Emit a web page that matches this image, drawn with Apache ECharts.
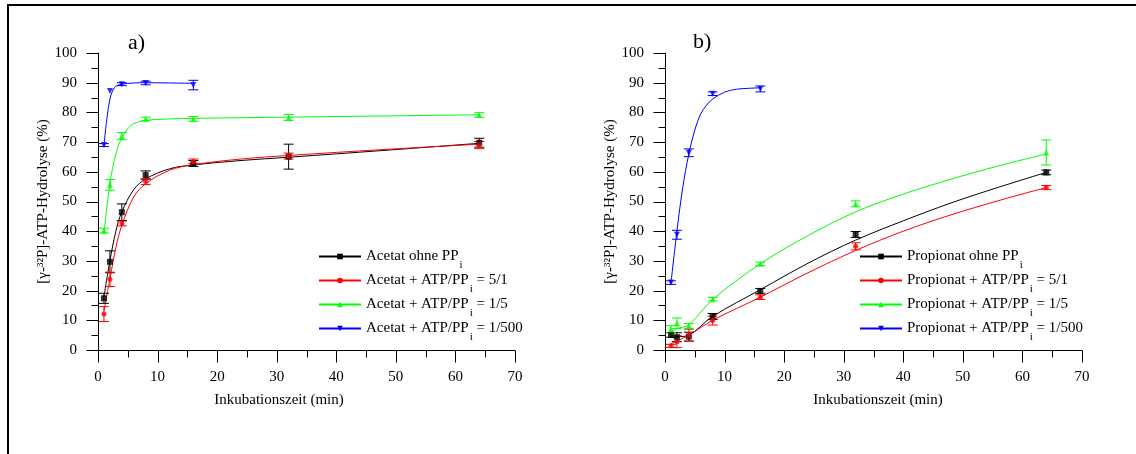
<!DOCTYPE html>
<html>
<head>
<meta charset="utf-8">
<script src="https://cdn.jsdelivr.net/npm/echarts@6/dist/echarts.min.js"></script>
<style>
  html, body { margin: 0; padding: 0; background: #fff; }
  #chart { width: 1136px; height: 454px; }
</style>
</head>
<body>
<div id="chart"></div>
<script>
// sampling times (min)
const times = [1, 2, 4, 8, 16, 32, 64]
const timesShort = [1, 2, 4, 8, 16]

// a) Acetat: measured points and error (+/-)
const acOhne = [17.4, 29.7, 46.4, 58.9, 62.8, 65.1, 69.8]
const acOhneErr = [1.7, 3.7, 2.8, 1.4, 1.0, 4.2, 1.5]
const ac51 = [12.1, 23.8, 42.6, 56.7, 63.5, 65.3, 69.0]
const ac51Err = [2.5, 2.4, 0.8, 1.0, 0.8, 1.0, 1.2]
const ac15 = [40.2, 55.6, 72.0, 77.8, 77.8, 78.3, 79.1]
const ac15Err = [0.8, 1.8, 1.2, 0.6, 0.8, 1.0, 0.8]
const ac1500 = [69.0, 87.2, 89.5, 89.9, 89.2]
const ac1500Err = [0.5, 0, 0.5, 0.6, 1.6]

// a) fitted curves
const fitXAc = [1, 2, 3, 4, 6, 8, 12, 16, 24, 32, 48, 64]
const fitAcOhne = [18, 30, 40, 46.5, 54, 57.6, 61, 62.3, 63.8, 64.9, 67.2, 69.6]
const fitAc51 = [13, 24, 34.5, 42, 51.5, 56, 60.5, 62.4, 64.3, 65.5, 67.5, 69.3]
const fitXAc15 = [1, 2, 3, 4, 5, 6, 8, 12, 16, 32, 64]
const fitAc15 = [39, 56, 66, 71.5, 74.5, 76.2, 77.3, 77.8, 78, 78.4, 79.2]
const fitXAc1500 = [1, 1.5, 2, 2.5, 3, 4, 6, 8, 12, 16]
const fitAc1500 = [69, 78, 84.5, 87.5, 88.8, 89.5, 89.9, 90, 89.9, 89.8]

// b) Propionat: measured points and error (+/-)
const prOhne = [5.1, 4.3, 4.5, 11.3, 19.9, 38.9, 59.8]
const prOhneErr = [0.8, 1.5, 1.5, 1.0, 0.8, 1.0, 0.8]
const pr51 = [1.4, 2.8, 5.0, 9.9, 17.8, 34.9, 54.7]
const pr51Err = [0.5, 2.0, 2.0, 1.5, 0.8, 1.2, 0.7]
const pr15 = [7.0, 9.0, 8.1, 17.1, 29.0, 49.2, 66.5]
const pr15Err = [1.2, 1.8, 0.8, 0.6, 0.6, 1.0, 4.2]
const pr1500 = [22.7, 38.8, 66.4, 86.3, 87.9]
const pr1500Err = [0.6, 1.5, 1.3, 0.6, 1.0]

// b) fitted curves
const fitXPr = [1, 2, 4, 8, 16, 24, 32, 40, 48, 56, 64]
const fitPrOhne = [4.2, 4.4, 5.0, 11.3, 20.3, 29.2, 37, 43.5, 49.5, 54.8, 59.8]
const fitPr51 = [2, 3, 5, 10, 17.8, 26, 33.5, 40, 45.5, 50.3, 54.7]
const fitPr15 = [6, 7.2, 8.5, 17, 29, 38.5, 46.5, 52.5, 57.5, 62, 66]
const fitXPr1500 = [1, 2, 3, 4, 5, 6, 7, 8, 10, 12, 14, 16]
const fitPr1500 = [22.5, 40, 55, 66, 74, 79.5, 82.5, 84.5, 86.8, 87.8, 88.1, 88.3]

// tick values (major labelled, minor between)
const xMajor = [0, 10, 20, 30, 40, 50, 60, 70]
const xMinor = [5, 15, 25, 35, 45, 55, 65]
const yMajor = [0, 10, 20, 30, 40, 50, 60, 70, 80, 90, 100]
const yMinor = [5, 15, 25, 35, 45, 55, 65, 75, 85, 95]

// legend texts: prefix, subscript i, suffix
const legendPre = ['ohne PP', '+ ATP/PP', '+ ATP/PP', '+ ATP/PP']
const legendPost = ['', ' = 5/1', ' = 1/5', ' = 1/500']

const colors = ['#000000', '#ff0000', '#00ff00', '#0000ff']
const symbols = ['rect', 'circle', 'triangle', 'path://M0,0 L10,0 L5,10 Z']
const symbolSizes = [6, 5, 6, 6]
const FONT = '"Liberation Serif", "DejaVu Serif", serif'
const MAJOR_LEN = 12
const MINOR_LEN = 7

const chart = echarts.init(document.getElementById('chart'))

const zip = (xs, ys) => xs.map((x, i) => [x, ys[i]])
const zip3 = (xs, ys, es) => xs.map((x, i) => [x, ys[i], es[i]])

const makeName = (sub, i) => sub + ' ' + legendPre[i] + 'i' + legendPost[i]

const errorBars = (idx, color, data) => ({
  type: 'custom',
  xAxisIndex: idx,
  yAxisIndex: idx,
  silent: true,
  data: data,
  z: 3,
  renderItem: (params, api) => {
    const x = api.value(0), y = api.value(1), e = api.value(2)
    if (!e) return null
    const hi = api.coord([x, y + e])
    const lo = api.coord([x, y - e])
    const w = 5
    const style = { stroke: color, lineWidth: 1 }
    return {
      type: 'group',
      children: [
        { type: 'line', shape: { x1: hi[0], y1: hi[1], x2: lo[0], y2: lo[1] }, style },
        { type: 'line', shape: { x1: hi[0] - w, y1: hi[1], x2: hi[0] + w, y2: hi[1] }, style },
        { type: 'line', shape: { x1: lo[0] - w, y1: lo[1], x2: lo[0] + w, y2: lo[1] }, style }
      ]
    }
  }
})

// axis ticks placed through the axis scales (outside, pointing down / left)
const tickSeries = (idx) => {
  const data = []
  xMajor.forEach(v => data.push([v, 0, MAJOR_LEN, 0]))
  xMinor.forEach(v => data.push([v, 0, MINOR_LEN, 0]))
  yMajor.forEach(v => data.push([0, v, MAJOR_LEN, 1]))
  yMinor.forEach(v => data.push([0, v, MINOR_LEN, 1]))
  return {
    type: 'custom',
    xAxisIndex: idx,
    yAxisIndex: idx,
    silent: true,
    clip: false,
    data: data,
    z: 5,
    renderItem: (params, api) => {
      const p = api.coord([api.value(0), api.value(1)])
      const len = api.value(2)
      const px = Math.round(p[0]) + 0.5
      const py = Math.round(p[1]) + 0.5
      const shape = api.value(3)
        ? { x1: px - len, y1: py, x2: px, y2: py }
        : { x1: px, y1: py, x2: px, y2: py + len }
      return { type: 'line', shape: shape, style: { stroke: '#000', lineWidth: 1 } }
    }
  }
}

const panel = (idx, sub, groups) => {
  const out = []
  groups.forEach((g, i) => {
    out.push({
      name: makeName(sub, i),
      type: 'line',
      xAxisIndex: idx,
      yAxisIndex: idx,
      data: zip(g.fx, g.fy),
      smooth: 0.35,
      showSymbol: false,
      symbol: symbols[i],
      symbolSize: symbolSizes[i],
      lineStyle: { color: colors[i], width: 1 },
      itemStyle: { color: colors[i] },
      silent: true,
      z: 2
    })
    out.push({
      name: sub + ' points ' + i,
      type: 'scatter',
      xAxisIndex: idx,
      yAxisIndex: idx,
      data: zip(g.x, g.y),
      symbol: symbols[i],
      symbolSize: symbolSizes[i],
      itemStyle: { color: colors[i] },
      z: 4
    })
    out.push(errorBars(idx, colors[i], zip3(g.x, g.y, g.e)))
  })
  out.push(tickSeries(idx))
  return out
}

const seriesA = panel(0, 'Acetat', [
  { x: times, y: acOhne, e: acOhneErr, fx: fitXAc, fy: fitAcOhne },
  { x: times, y: ac51, e: ac51Err, fx: fitXAc, fy: fitAc51 },
  { x: times, y: ac15, e: ac15Err, fx: fitXAc15, fy: fitAc15 },
  { x: timesShort, y: ac1500, e: ac1500Err, fx: fitXAc1500, fy: fitAc1500 }
])
const seriesB = panel(1, 'Propionat', [
  { x: times, y: prOhne, e: prOhneErr, fx: fitXPr, fy: fitPrOhne },
  { x: times, y: pr51, e: pr51Err, fx: fitXPr, fy: fitPr51 },
  { x: times, y: pr15, e: pr15Err, fx: fitXPr, fy: fitPr15 },
  { x: timesShort, y: pr1500, e: pr1500Err, fx: fitXPr1500, fy: fitPr1500 }
])

const makeAxis = (idx, min, max, interval, margin) => ({
  type: 'value',
  gridIndex: idx,
  min: min,
  max: max,
  interval: interval,
  axisLine: { show: true, lineStyle: { color: '#000', width: 1 } },
  axisTick: { show: false },
  minorTick: { show: false },
  splitLine: { show: false },
  axisLabel: { color: '#000', fontFamily: FONT, fontSize: 15, margin: margin }
})

const xAxis = (idx, pad) => Object.assign(makeAxis(idx, 0, 70, 10, 20), {
  name: 'Inkubationszeit (min)',
  nameLocation: 'middle',
  nameGap: 43,
  nameTextStyle: { color: '#000', fontFamily: FONT, fontSize: 15, padding: pad }
})

const yAxis = (idx) => Object.assign(makeAxis(idx, 0, 100, 10, 21), {
  name: '[γ-³²P]-ATP-Hydrolyse (%)',
  nameLocation: 'middle',
  nameGap: 47,
  nameTextStyle: { color: '#000', fontFamily: FONT, fontSize: 15 }
})

const legendFor = (sub, left) => ({
  orient: 'vertical',
  left: left,
  top: 242,
  padding: 0,
  itemGap: -5,
  itemWidth: 42,
  itemHeight: 7,
  selectedMode: false,
  data: legendPre.map((p, i) => makeName(sub, i)),
  formatter: (name) => {
    const i = legendPre.findIndex((p, k) => makeName(sub, k) === name)
    return '{t|' + sub + ' ' + legendPre[i] + '}{s|i}{t|' + legendPost[i] + '}'
  },
  textStyle: {
    rich: {
      t: { fontFamily: FONT, fontSize: 15, lineHeight: 17, color: '#000' },
      s: { fontFamily: FONT, fontSize: 11, lineHeight: 11, color: '#000', padding: [18, 0, 0, 1] }
    }
  }
})

const option = {
  backgroundColor: '#fff',
  animation: false,
  grid: [
    { left: 98, top: 53, width: 417, height: 297 },
    { left: 665, top: 53, width: 417, height: 297 }
  ],
  xAxis: [xAxis(0, [0, 55, 0, 0]), xAxis(1, [0, 0, 0, 9])],
  yAxis: [yAxis(0), yAxis(1)],
  legend: [legendFor('Acetat', 318), legendFor('Propionat', 859)],
  graphic: [
    {
      type: 'rect',
      shape: { x: 8, y: 5, width: 1140, height: 460 },
      style: { fill: 'none', stroke: '#000', lineWidth: 2 },
      silent: true
    },
    {
      type: 'text', left: 128, top: 32,
      style: { text: 'a)', font: '22px ' + FONT, fill: '#000' }
    },
    {
      type: 'text', left: 693, top: 31,
      style: { text: 'b)', font: '22px ' + FONT, fill: '#000' }
    }
  ],
  series: seriesA.concat(seriesB)
}

chart.setOption(option)
</script>
</body>
</html>
